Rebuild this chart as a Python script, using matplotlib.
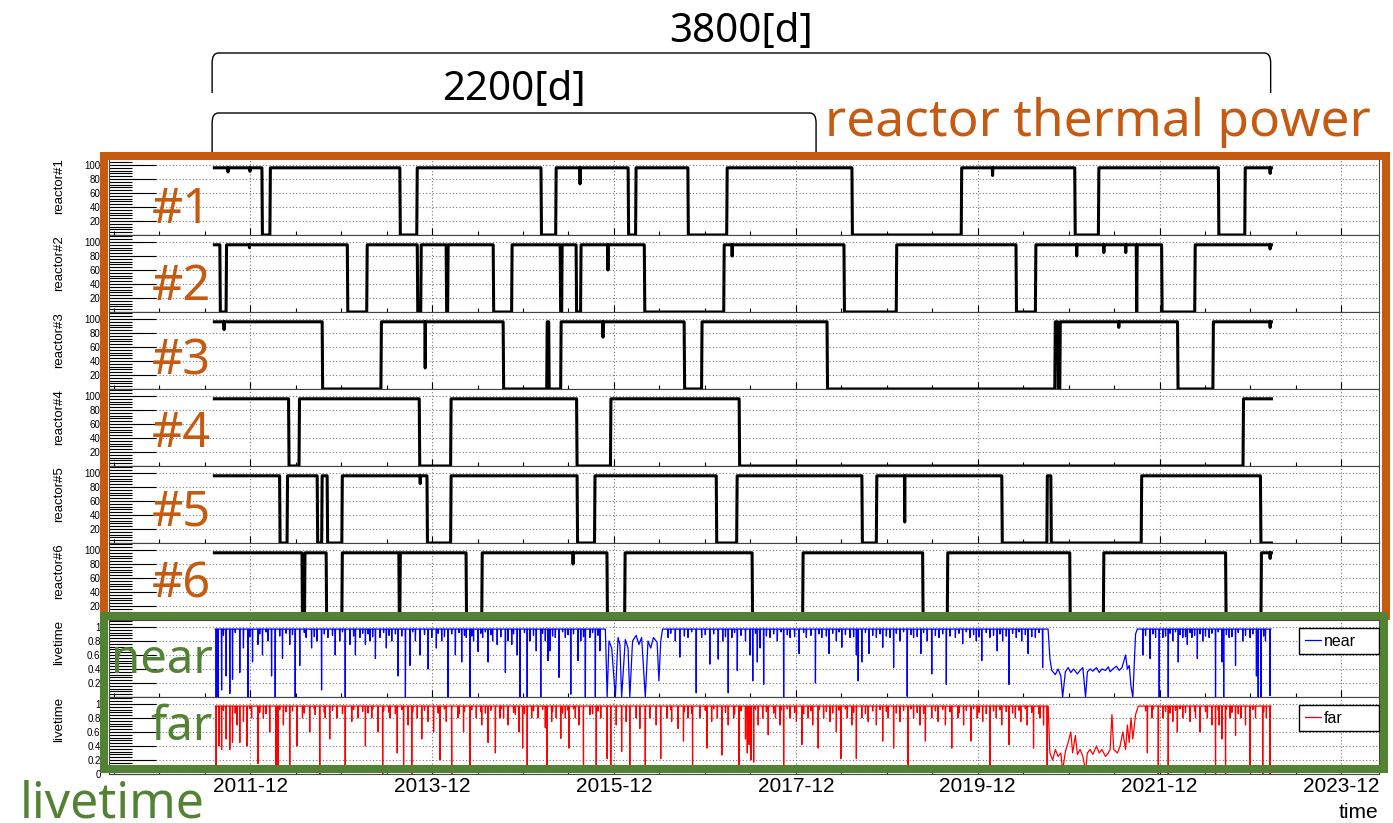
import datetime as dt
import matplotlib
matplotlib.use('Agg')
import matplotlib.pyplot as plt
import matplotlib.dates as mdates
from matplotlib.patches import Rectangle, PathPatch
from matplotlib.path import Path
from matplotlib.transforms import blended_transform_factory

ORANGE = '#C55A11'
GREEN = '#548235'

t_start = '2011-07-10'
t_end = '2023-02-23'
full_power = 96

# reactor operating periods (start, stop) and short power drops (date, %)
r1_on = [('2011-07-10', '2012-01-17'), ('2012-02-20', '2013-07-24'), ('2013-10-02', '2015-02-11'),
         ('2015-04-13', '2016-01-27'), ('2016-02-28', '2016-09-23'), ('2017-02-28', '2018-07-14'),
         ('2019-09-28', '2020-12-25'), ('2021-04-01', '2022-07-25'), ('2022-11-10', '2023-02-23')]
r1_dips = [('2011-09-03', 90), ('2011-11-30', 91), ('2015-07-18', 73), ('2020-01-30', 85), ('2023-02-18', 88)]

r2_on = [('2011-07-10', '2011-08-01'), ('2011-08-28', '2012-12-25'), ('2013-03-15', '2013-10-02'),
         ('2013-10-18', '2014-01-26'), ('2014-02-03', '2014-08-03'), ('2014-10-18', '2015-04-29'),
         ('2015-05-07', '2015-07-02'), ('2015-07-22', '2016-04-01'), ('2017-02-16', '2018-06-12'),
         ('2019-01-10', '2020-05-03'), ('2020-07-22', '2021-08-29'), ('2021-09-02', '2021-12-09'),
         ('2022-04-23', '2023-02-23')]
r2_dips = [('2011-11-28', 92), ('2015-11-07', 60), ('2017-03-20', 80), ('2021-01-02', 80),
           ('2021-04-21', 85), ('2021-07-18', 85), ('2023-02-18', 90)]

r3_on = [('2011-07-10', '2012-09-15'), ('2013-05-11', '2014-09-12'), ('2015-03-08', '2015-03-14'),
         ('2015-05-03', '2016-09-08'), ('2016-11-19', '2018-04-05'), ('2020-10-08', '2020-10-18'),
         ('2020-10-28', '2022-02-11'), ('2022-07-05', '2023-02-23')]
r3_dips = [('2011-08-18', 85), ('2013-11-03', 30), ('2015-10-18', 74), ('2021-06-20', 88), ('2023-02-18', 88)]

r4_on = [('2011-07-10', '2012-05-03'), ('2012-06-16', '2013-10-10'), ('2014-02-15', '2015-07-04'),
         ('2015-11-19', '2017-04-17'), ('2022-11-03', '2023-02-23')]
r4_dips = []

r5_on = [('2011-07-10', '2012-03-28'), ('2012-04-29', '2012-08-26'), ('2012-09-15', '2012-10-05'),
         ('2012-12-05', '2013-11-10'), ('2014-02-15', '2015-07-06'), ('2015-09-16', '2017-01-15'),
         ('2017-04-09', '2018-08-23'), ('2018-10-22', '2020-03-07'), ('2020-09-06', '2020-09-20'),
         ('2021-09-20', '2023-01-10')]
r5_dips = [('2013-10-14', 85), ('2019-02-11', 30)]

r6_on = [('2011-07-10', '2012-06-26'), ('2012-07-08', '2012-10-01'), ('2012-12-05', '2013-07-20'),
         ('2013-07-26', '2014-04-16'), ('2014-06-20', '2015-11-03'), ('2016-01-15', '2017-06-08'),
         ('2017-12-30', '2019-04-24'), ('2019-08-03', '2020-12-05'), ('2021-04-21', '2022-08-23'),
         ('2023-01-14', '2023-02-23')]
r6_dips = [('2015-06-20', 80), ('2023-02-18', 88)]

# livetime: spikes below the ~0.97 plateau (decimal year, value)
near_spike_t = [2011.54, 2011.56, 2011.60, 2011.65, 2011.69, 2011.72, 2011.80, 2011.84, 2011.89, 2011.94,
                2012.00, 2012.05, 2012.11, 2012.15, 2012.19, 2012.27, 2012.35, 2012.41, 2012.46, 2012.53,
                2012.59, 2012.65, 2012.70, 2012.77, 2012.85, 2012.90, 2012.96, 2013.01, 2013.07, 2013.12,
                2013.18, 2013.23, 2013.29, 2013.34, 2013.41, 2013.47, 2013.54, 2013.62, 2013.67, 2013.73,
                2013.78, 2013.87, 2013.91, 2013.96, 2014.02, 2014.09, 2014.17, 2014.24, 2014.29, 2014.33,
                2014.37, 2014.42, 2014.47, 2014.53, 2014.58, 2014.63, 2014.72, 2014.75, 2014.79, 2014.85,
                2014.88, 2014.96, 2014.99, 2015.06, 2015.11, 2015.16, 2015.19, 2015.21, 2015.27, 2015.31,
                2015.38, 2015.44, 2015.52, 2015.55, 2015.60, 2015.65, 2015.71, 2015.76,
                2016.51, 2016.59, 2016.64, 2016.73, 2016.82, 2016.88, 2016.97, 2017.06, 2017.11, 2017.17,
                2017.21, 2017.27, 2017.36, 2017.41, 2017.44, 2017.49, 2017.52, 2017.56, 2017.63, 2017.71,
                2017.78, 2017.85, 2017.95, 2018.03, 2018.13, 2018.20, 2018.28, 2018.36, 2018.42, 2018.51,
                2018.58, 2018.60, 2018.64, 2018.72, 2018.80, 2018.87, 2018.95, 2018.99, 2019.06, 2019.14,
                2019.21, 2019.29, 2019.36, 2019.41, 2019.49, 2019.57, 2019.67, 2019.75, 2019.83, 2019.90,
                2019.96, 2020.05, 2020.13, 2020.19, 2020.26, 2020.34, 2020.40, 2020.47, 2020.55, 2020.63,
                2021.73, 2021.81, 2021.87, 2021.91, 2021.95, 2022.01, 2022.06, 2022.12, 2022.17, 2022.22,
                2022.27, 2022.33, 2022.39, 2022.46, 2022.53, 2022.60, 2022.62, 2022.68, 2022.75, 2022.83,
                2022.91, 2022.98, 2023.00, 2023.03, 2023.08, 2023.13]
near_spike_v = [0.0, 0.0, 0.1, 0.3, 0.05, 0.25, 0.35, 0.7, 0.0, 0.5,
                0.75, 0.6, 0.8, 0.3, 0.0, 0.55, 0.75, 0.0, 0.45, 0.85,
                0.7, 0.8, 0.1, 0.85, 0.6, 0.8, 0.0, 0.75, 0.6, 0.85,
                0.75, 0.8, 0.55, 0.85, 0.7, 0.8, 0.3, 0.0, 0.45, 0.8,
                0.6, 0.4, 0.85, 0.7, 0.8, 0.0, 0.6, 0.5, 0.85, 0.0,
                0.8, 0.65, 0.85, 0.5, 0.8, 0.75, 0.35, 0.8, 0.75, 0.6,
                0.0, 0.0, 0.8, 0.66, 0.0, 0.8, 0.52, 0.66, 0.85, 0.28,
                0.85, 0.04, 0.52, 0.8, 0.0, 0.85, 0.0, 0.66,
                0.85, 0.8, 0.57, 0.85, 0.06, 0.85, 0.47, 0.54, 0.8, 0.06,
                0.85, 0.38, 0.8, 0.6, 0.23, 0.5, 0.7, 0.18, 0.85, 0.8,
                0.0, 0.85, 0.62, 0.85, 0.2, 0.85, 0.62, 0.8, 0.71, 0.85,
                0.6, 0.23, 0.5, 0.62, 0.85, 0.71, 0.85, 0.42, 0.8, 0.01,
                0.85, 0.62, 0.8, 0.33, 0.85, 0.18, 0.85, 0.76, 0.85, 0.8,
                0.52, 0.85, 0.66, 0.8, 0.18, 0.85, 0.8, 0.62, 0.85, 0.42,
                0.6, 0.55, 0.85, 0.0, 0.85, 0.0, 0.8, 0.5, 0.85, 0.75,
                0.85, 0.55, 0.8, 0.85, 0.0, 0.5, 0.0, 0.85, 0.45, 0.8,
                0.85, 0.3, 0.0, 0.0, 0.8, 0.02]
# livetime: unstable periods given point by point
near_seg_t = [2015.82, 2015.84, 2015.86, 2015.89, 2015.93, 2015.96, 2015.98, 2016.00, 2016.04, 2016.07,
              2016.09, 2016.12, 2016.16, 2016.19, 2016.22, 2016.26, 2016.29, 2016.32, 2016.35, 2016.39,
              2016.41, 2016.43, 2016.45,
              2020.69, 2020.71, 2020.73, 2020.77, 2020.80, 2020.83, 2020.85, 2020.88, 2020.91, 2020.94,
              2020.97, 2021.01, 2021.04, 2021.07, 2021.10, 2021.12, 2021.15, 2021.18, 2021.22, 2021.25,
              2021.28, 2021.32, 2021.35, 2021.37, 2021.40, 2021.44, 2021.47, 2021.50, 2021.54, 2021.56,
              2021.58, 2021.60, 2021.62, 2021.65, 2021.67]
near_seg_v = [0.97, 0.0, 0.8, 0.7, 0.0, 0.85, 0.75, 0.0, 0.82, 0.7,
              0.0, 0.8, 0.88, 0.75, 0.85, 0.0, 0.8, 0.7, 0.85, 0.78,
              0.23, 0.8, 0.97,
              0.97, 0.55, 0.38, 0.32, 0.4, 0.3, 0.0, 0.36, 0.42, 0.35,
              0.4, 0.33, 0.38, 0.42, 0.0, 0.36, 0.4, 0.37, 0.42, 0.35,
              0.4, 0.38, 0.43, 0.36, 0.4, 0.44, 0.38, 0.42, 0.6, 0.4,
              0.45, 0.15, 0.0, 0.9, 0.97]

far_spike_t = [2011.54, 2011.57, 2011.60, 2011.65, 2011.69, 2011.72, 2011.77, 2011.80, 2011.84, 2011.88,
               2011.93, 2012.00, 2012.06, 2012.13, 2012.20, 2012.22, 2012.28, 2012.35, 2012.43, 2012.49,
               2012.57, 2012.63, 2012.68, 2012.74, 2012.79, 2012.87, 2012.96, 2013.03, 2013.10, 2013.18,
               2013.25, 2013.32, 2013.37, 2013.45, 2013.53, 2013.60, 2013.65, 2013.69, 2013.75, 2013.80,
               2013.87, 2013.93, 2014.00, 2014.07, 2014.13, 2014.20, 2014.26, 2014.33, 2014.40, 2014.46,
               2014.53, 2014.61, 2014.66, 2014.70, 2014.75, 2014.83, 2014.87, 2014.91, 2014.96, 2015.01,
               2015.08, 2015.16, 2015.18, 2015.23, 2015.28, 2015.33, 2015.38, 2015.42, 2015.49, 2015.53,
               2015.58, 2015.65, 2015.72, 2015.77, 2015.84, 2015.88, 2015.94, 2016.00, 2016.05, 2016.09,
               2016.16, 2016.20, 2016.26, 2016.31, 2016.38, 2016.43, 2016.50, 2016.55, 2016.62, 2016.68,
               2016.73, 2016.78, 2016.86, 2016.94, 2016.99, 2017.05, 2017.10, 2017.17, 2017.23, 2017.29,
               2017.36, 2017.38, 2017.40, 2017.42, 2017.45, 2017.50, 2017.55, 2017.61, 2017.69, 2017.74,
               2017.78, 2017.85, 2017.92, 2017.98, 2018.05, 2018.10, 2018.16, 2018.22, 2018.29, 2018.36,
               2018.41, 2018.48, 2018.53, 2018.58, 2018.64, 2018.71, 2018.80, 2018.87, 2018.93, 2018.99,
               2019.06, 2019.15, 2019.21, 2019.28, 2019.34, 2019.41, 2019.48, 2019.56, 2019.63, 2019.70,
               2019.76, 2019.84, 2019.91, 2019.97, 2020.05, 2020.12, 2020.18, 2020.26, 2020.33, 2020.39,
               2020.46, 2020.53, 2020.60, 2020.64, 2020.68,
               2021.78, 2021.83, 2021.90, 2021.95, 2022.01, 2022.06, 2022.11, 2022.17, 2022.25, 2022.31,
               2022.36, 2022.44, 2022.49, 2022.53, 2022.57, 2022.60, 2022.64, 2022.69, 2022.75, 2022.81,
               2022.86, 2022.91, 2022.97, 2023.05, 2023.09, 2023.13]
far_spike_v = [0.13, 0.4, 0.35, 0.5, 0.35, 0.45, 0.7, 0.45, 0.75, 0.4,
               0.8, 0.15, 0.8, 0.6, 0.08, 0.1, 0.7, 0.13, 0.4, 0.8,
               0.6, 0.85, 0.0, 0.8, 0.5, 0.8, 0.05, 0.75, 0.8, 0.4,
               0.8, 0.6, 0.0, 0.8, 0.3, 0.05, 0.7, 0.0, 0.8, 0.5,
               0.75, 0.6, 0.2, 0.75, 0.0, 0.8, 0.6, 0.05, 0.8, 0.7,
               0.45, 0.3, 0.8, 0.8, 0.7, 0.85, 0.6, 0.37, 0.08, 0.8,
               0.8, 0.66, 0.08, 0.75, 0.8, 0.51, 0.8, 0.37, 0.8, 0.7,
               0.08, 0.85, 0.08, 0.8, 0.22, 0.08, 0.7, 0.32, 0.75, 0.08,
               0.8, 0.65, 0.13, 0.8, 0.7, 0.22, 0.8, 0.75, 0.65, 0.47,
               0.8, 0.08, 0.8, 0.37, 0.75, 0.8, 0.27, 0.7, 0.8, 0.08,
               0.5, 0.3, 0.42, 0.2, 0.17, 0.7, 0.8, 0.56, 0.8, 0.7,
               0.08, 0.8, 0.75, 0.42, 0.8, 0.7, 0.37, 0.8, 0.75, 0.6,
               0.22, 0.8, 0.7, 0.22, 0.8, 0.75, 0.7, 0.47, 0.8, 0.37,
               0.75, 0.08, 0.8, 0.7, 0.47, 0.8, 0.75, 0.7, 0.37, 0.8,
               0.7, 0.47, 0.8, 0.75, 0.08, 0.8, 0.7, 0.42, 0.8, 0.75,
               0.7, 0.37, 0.8, 0.7, 0.08,
               0.3, 0.8, 0.0, 0.8, 0.0, 0.75, 0.6, 0.8, 0.75, 0.8,
               0.6, 0.8, 0.7, 0.0, 0.7, 0.5, 0.0, 0.8, 0.55, 0.8,
               0.7, 0.1, 0.8, 0.0, 0.8, 0.0]
far_seg_t = [2020.69, 2020.71, 2020.74, 2020.77, 2020.80, 2020.83, 2020.85, 2020.88, 2020.91, 2020.94,
             2020.96, 2020.99, 2021.01, 2021.04, 2021.07, 2021.10, 2021.12, 2021.15, 2021.18, 2021.22,
             2021.25, 2021.28, 2021.32, 2021.35, 2021.37, 2021.39, 2021.41, 2021.45, 2021.48, 2021.51,
             2021.54, 2021.56, 2021.58, 2021.60, 2021.62, 2021.65, 2021.68]
far_seg_v = [0.97, 0.3, 0.2, 0.35, 0.25, 0.3, 0.05, 0.32, 0.45, 0.6,
             0.3, 0.55, 0.28, 0.35, 0.25, 0.05, 0.3, 0.35, 0.28, 0.4,
             0.3, 0.35, 0.25, 0.3, 0.35, 0.85, 0.35, 0.3, 0.4, 0.6,
             0.35, 0.7, 0.45, 0.8, 0.5, 0.85, 0.97]
# shallow dips that thicken the top of both livetime curves
shallow_t = [2011.62, 2011.75, 2011.91, 2012.02, 2012.09, 2012.24, 2012.31, 2012.38, 2012.51, 2012.62,
             2012.73, 2012.82, 2012.93, 2013.05, 2013.15, 2013.21, 2013.26, 2013.38, 2013.44, 2013.51,
             2013.58, 2013.70, 2013.83, 2013.98, 2014.05, 2014.13, 2014.21, 2014.27, 2014.35, 2014.45,
             2014.50, 2014.56, 2014.67, 2014.81, 2014.93, 2015.03, 2015.13, 2015.24, 2015.35, 2015.41,
             2015.47, 2015.58, 2015.68, 2015.74, 2016.54, 2016.69, 2016.77, 2016.92, 2017.01, 2017.14,
             2017.24, 2017.31, 2017.47, 2017.59, 2017.67, 2017.75, 2017.82, 2017.90, 2018.00, 2018.08,
             2018.17, 2018.25, 2018.32, 2018.39, 2018.46, 2018.55, 2018.68, 2018.76, 2018.84, 2018.91,
             2019.02, 2019.10, 2019.18, 2019.25, 2019.32, 2019.45, 2019.53, 2019.61, 2019.71, 2019.79,
             2019.87, 2019.93, 2020.01, 2020.09, 2020.16, 2020.23, 2020.30, 2020.37, 2020.44, 2020.51,
             2020.59, 2021.76, 2021.84, 2021.98, 2022.03, 2022.09, 2022.14, 2022.20, 2022.25, 2022.30,
             2022.36, 2022.42, 2022.49, 2022.56, 2022.65, 2022.71, 2022.78, 2022.86, 2022.94, 2023.06]
near_shallow_v = [0.88, 0.92, 0.86, 0.9, 0.93, 0.87, 0.91, 0.89, 0.92, 0.86,
                  0.9, 0.88, 0.93, 0.87, 0.91, 0.9, 0.86, 0.92, 0.88, 0.9,
                  0.87, 0.93, 0.89, 0.91, 0.86, 0.9, 0.92, 0.88, 0.87, 0.91,
                  0.93, 0.89, 0.86, 0.9, 0.92, 0.88, 0.91, 0.87, 0.93, 0.89,
                  0.9, 0.86, 0.92, 0.88, 0.91, 0.87, 0.93, 0.89, 0.9, 0.86,
                  0.92, 0.88, 0.91, 0.87, 0.9, 0.93, 0.89, 0.86, 0.92, 0.88,
                  0.9, 0.87, 0.91, 0.93, 0.89, 0.86, 0.92, 0.88, 0.9, 0.87,
                  0.91, 0.93, 0.89, 0.86, 0.92, 0.88, 0.9, 0.87, 0.91, 0.93,
                  0.89, 0.86, 0.92, 0.88, 0.9, 0.87, 0.91, 0.93, 0.89, 0.86,
                  0.92, 0.88, 0.9, 0.87, 0.91, 0.93, 0.89, 0.86, 0.92, 0.88,
                  0.9, 0.87, 0.91, 0.93, 0.89, 0.86, 0.92, 0.88, 0.9, 0.87]
far_shallow_v = [0.91, 0.87, 0.93, 0.88, 0.86, 0.92, 0.89, 0.9, 0.87, 0.93,
                 0.88, 0.91, 0.86, 0.92, 0.89, 0.87, 0.93, 0.9, 0.88, 0.86,
                 0.92, 0.89, 0.91, 0.87, 0.93, 0.88, 0.86, 0.9, 0.92, 0.89,
                 0.87, 0.91, 0.93, 0.88, 0.86, 0.9, 0.92, 0.89, 0.87, 0.91,
                 0.93, 0.88, 0.86, 0.9, 0.92, 0.89, 0.87, 0.91, 0.93, 0.88,
                 0.86, 0.9, 0.92, 0.89, 0.87, 0.91, 0.93, 0.88, 0.86, 0.9,
                 0.92, 0.89, 0.87, 0.91, 0.93, 0.88, 0.86, 0.9, 0.92, 0.89,
                 0.87, 0.91, 0.93, 0.88, 0.86, 0.9, 0.92, 0.89, 0.87, 0.91,
                 0.93, 0.88, 0.86, 0.9, 0.92, 0.89, 0.87, 0.91, 0.93, 0.88,
                 0.86, 0.9, 0.92, 0.89, 0.87, 0.91, 0.93, 0.88, 0.86, 0.9,
                 0.92, 0.89, 0.87, 0.91, 0.93, 0.88, 0.86, 0.9, 0.92, 0.89]
live_start = 2011.53
live_end = 2023.14
live_plateau = 0.97

xtick_labels = ['2011-12', '2013-12', '2015-12', '2017-12', '2019-12', '2021-12', '2023-12']
x_range = (2010.36, 2024.33)

bracket_long = ('2011-07-01', '2023-02-20', '3800[d]')
bracket_short = ('2011-07-01', '2018-02-20', '2200[d]')


def year_num(t):
    y = int(t)
    return mdates.date2num(dt.datetime(y, 1, 1)) + (t - y) * 365.25


def power_curve(on, dips):
    t0, t1 = mdates.datestr2num(t_start), mdates.datestr2num(t_end)
    pts = []
    if mdates.datestr2num(on[0][0]) > t0:
        pts.append((t0, 0))
    for a, b in on:
        a, b = mdates.datestr2num(a), mdates.datestr2num(b)
        if a > t0:
            pts.append((a - 2, 0))
        pts += [(a, full_power), (b, full_power)]
        if b < t1:
            pts.append((b + 2, 0))
    if mdates.datestr2num(on[-1][1]) < t1:
        pts.append((t1, 0))
    for d, v in dips:
        d = mdates.datestr2num(d)
        pts += [(d - 1, full_power), (d, v), (d + 1, full_power)]
    pts.sort()
    return [p[0] for p in pts], [p[1] for p in pts]


def livetime_curve(spike_t, spike_v, seg_t, seg_v):
    pts = [(live_start, live_plateau), (live_end, live_plateau)]
    for t, v in zip(spike_t, spike_v):
        pts += [(t - 0.003, live_plateau), (t, v), (t + 0.003, live_plateau)]
    pts += list(zip(seg_t, seg_v))
    pts.sort()
    return [year_num(p[0]) for p in pts], [p[1] for p in pts]


reactors = [(r1_on, r1_dips), (r2_on, r2_dips), (r3_on, r3_dips),
            (r4_on, r4_dips), (r5_on, r5_dips), (r6_on, r6_dips)]

plt.rcParams['font.family'] = ['Liberation Sans', 'DejaVu Sans']

fig, axes = plt.subplots(8, 1, sharex=True, figsize=(13.93, 8.23), dpi=100,
                         gridspec_kw=dict(hspace=0))
fig.subplots_adjust(left=0.0782, right=0.990, top=1 - 158 / 823, bottom=1 - 774 / 823)

for i, (on, dips) in enumerate(reactors):
    ax = axes[i]
    x, y = power_curve(on, dips)
    ax.plot(x, y, color='black', lw=2.2, clip_on=False, zorder=3)
    ax.set_ylim(0, 110)
    ax.set_yticks([0, 20, 40, 60, 80, 100])
    ax.set_yticklabels(['', '20', '40', '60', '80', '100'])
    ax.yaxis.set_minor_locator(matplotlib.ticker.MultipleLocator(4))
    ax.set_ylabel('reactor#%d' % (i + 1), loc='top', fontsize=9.5)

near_x, near_y = livetime_curve(near_spike_t + shallow_t, near_spike_v + near_shallow_v,
                                near_seg_t, near_seg_v)
far_x, far_y = livetime_curve(far_spike_t + shallow_t, far_spike_v + far_shallow_v,
                              far_seg_t, far_seg_v)
axes[6].plot(near_x, near_y, color='#0000ff', lw=0.9, label='near')
axes[7].plot(far_x, far_y, color='#ff0000', lw=0.9, label='far')
for j, ax in enumerate(axes[6:]):
    ax.set_ylim(0, 1.1)
    ax.set_yticks([0, 0.2, 0.4, 0.6, 0.8, 1.0])
    ax.set_yticklabels(['0' if j == 1 else '', '0.2', '0.4', '0.6', '0.8', '1'])
    ax.yaxis.set_minor_locator(matplotlib.ticker.MultipleLocator(0.04))
    ax.set_ylabel('livetime', loc='top', fontsize=9.5)
    ax.legend(loc='upper left', bbox_to_anchor=(0.937, 0.506, 0.063, 0.39), mode='expand',
              borderaxespad=0, fancybox=False, edgecolor='black', framealpha=1,
              fontsize=11.5, handlelength=1.0, handletextpad=0.2, borderpad=0.35)

xticks = mdates.datestr2num([l + '-01' for l in xtick_labels])
for ax in axes:
    ax.set_xlim(year_num(x_range[0]), year_num(x_range[1]))
    ax.set_xticks(xticks)
    ax.xaxis.set_minor_locator(mdates.MonthLocator(bymonth=[6, 12]))
    ax.grid(True, which='major', linestyle=(0, (1, 2)), color='#777777', lw=0.8)
    ax.tick_params(axis='y', which='major', direction='in', length=34, width=0.8,
                   labelsize=7, pad=6)
    ax.tick_params(axis='y', which='minor', direction='in', length=16.5, width=0.8)
    ax.tick_params(axis='x', which='major', direction='in', length=5, width=0.8, pad=2)
    ax.tick_params(axis='x', which='minor', direction='in', length=3, width=0.8)
    ax.yaxis.set_label_coords(-0.0346, 1.0)
    for s in ax.spines.values():
        s.set_color('#444444')
        s.set_linewidth(0.8)
axes[-1].set_xticklabels(xtick_labels, fontsize=15)

fig.text(1378 / 1393, 1 - 818 / 823, 'time', ha='right', va='baseline', fontsize=15)

# annotation layer
ann = dict(family=['Noto Sans', 'DejaVu Sans'])
fig.add_artist(Rectangle((104 / 1393, 1 - 616 / 823), 1282 / 1393, 460 / 823, transform=fig.transFigure,
                         fill=False, ec=ORANGE, lw=5.8, joinstyle='miter', zorder=10))
fig.add_artist(Rectangle((104 / 1393, 1 - 769 / 823), 1280 / 1393, 153 / 823, transform=fig.transFigure,
                         fill=False, ec=GREEN, lw=5.8, joinstyle='miter', zorder=11))

base_y = [223, 300, 375, 447, 525, 598]
for i, by in enumerate(base_y):
    fig.text(152 / 1393, 1 - by / 823, '#%d' % (i + 1), color=ORANGE, fontsize=35,
             ha='left', va='baseline', zorder=12, **ann)
fig.text(825 / 1393, 1 - 136 / 823, 'reactor thermal power', color=ORANGE, fontsize=37,
         ha='left', va='baseline', **ann)
fig.text(213 / 1393, 1 - 673 / 823, 'near', color=GREEN, fontsize=34, ha='right', va='baseline',
         zorder=12, **ann)
fig.text(213 / 1393, 1 - 740 / 823, 'far', color=GREEN, fontsize=34, ha='right', va='baseline',
         zorder=12, **ann)
fig.text(20 / 1393, 1 - 817 / 823, 'livetime', color=GREEN, fontsize=36, ha='left', va='baseline', **ann)

trans = blended_transform_factory(axes[0].transData, fig.transFigure)


def bracket(x0, x1, label, ytop, ybot, ytext):
    a, b = mdates.datestr2num(x0), mdates.datestr2num(x1)
    rx, ry = 25, 0.012
    verts = [(a, ybot), (a, ytop - ry), (a, ytop), (a + rx, ytop), (b - rx, ytop),
             (b, ytop), (b, ytop - ry), (b, ybot)]
    codes = [Path.MOVETO, Path.LINETO, Path.CURVE3, Path.CURVE3, Path.LINETO,
             Path.CURVE3, Path.CURVE3, Path.LINETO]
    fig.add_artist(PathPatch(Path(verts, codes), transform=trans, fill=False, lw=1.0,
                             ec='black', clip_on=False))
    fig.text((a + b) / 2, ytext, label, transform=trans, ha='center', va='baseline',
             fontsize=29, **ann)


bracket(*bracket_long, ytop=1 - 53 / 823, ybot=1 - 93 / 823, ytext=1 - 42 / 823)
bracket(*bracket_short, ytop=1 - 113 / 823, ybot=1 - 152 / 823, ytext=1 - 100 / 823)

fig.savefig('out.png', dpi=100, facecolor='white')
